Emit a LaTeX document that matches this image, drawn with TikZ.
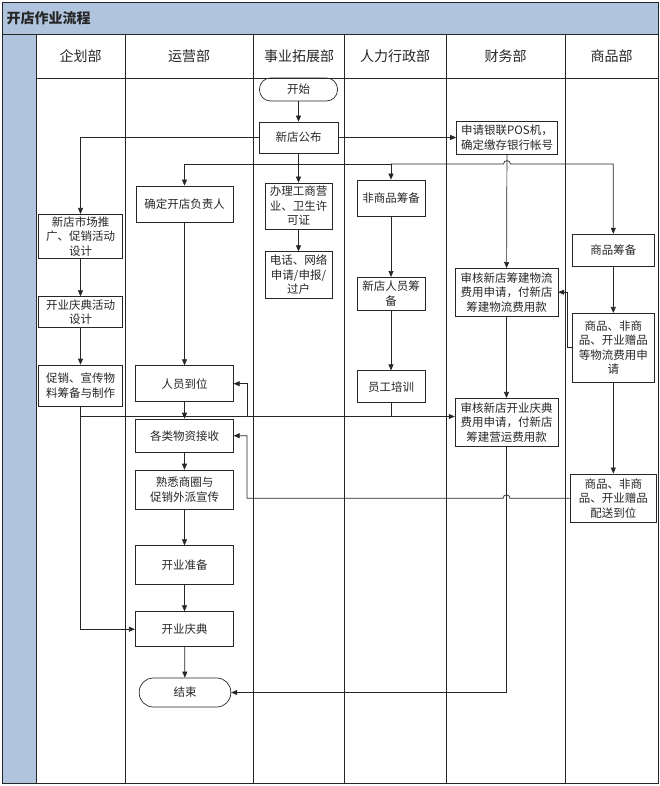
\documentclass[tikz,border=0pt]{standalone}
\usepackage{fontspec}
\setmainfont{Noto Sans CJK SC}
\usetikzlibrary{arrows.meta}
\definecolor{band}{HTML}{B0C4DE}
\definecolor{ink}{HTML}{262626}
\begin{document}
\begin{tikzpicture}[x=1pt,y=-1pt,
  bx/.style 2 args={draw=ink, line width=0.7pt, minimum width=#1, minimum height=#2, inner sep=0pt, align=center, font=\fontsize{11.5}{14.5}\selectfont, text=ink},
  term/.style n args={3}{bx={#1}{#2}, rounded corners=#3},
  conn/.style={draw=ink, line width=0.7pt},
  arr/.style={conn, -{Triangle[length=6pt,width=5pt]}},
  lane/.style={draw=ink, line width=0.9pt},
  hdr/.style={font=\fontsize{14}{16}\selectfont, text=ink}]
\useasboundingbox (0,0) rectangle (660,786);
% frame
\fill[band] (2,2) rectangle (658,34);
\fill[band] (2,34) rectangle (36,783);
\draw[lane] (2,2) rectangle (658,783);
\draw[lane] (2,34) -- (658,34);
\draw[lane] (36,78) -- (658,78);
\foreach \x in {36,125,253.7,344.3,446,565.7} \draw[lane] (\x,34) -- (\x,783);
\node[anchor=west, font=\bfseries\fontsize{14}{16}\selectfont, text=ink] (title) at (3,18) {开店作业流程};
% headers
\node[hdr] (h1) at (80.5,56) {企划部};
\node[hdr] (h2) at (189,56) {运营部};
\node[hdr] (h3) at (299,56) {事业拓展部};
\node[hdr] (h4) at (395,56) {人力行政部};
\node[hdr] (h5) at (505.5,56) {财务部};
\node[hdr] (h6) at (611.5,56) {商品部};
% nodes
\node[term={78pt}{23pt}{11pt}] (start) at (298.5,89.5) {开始};
\node[bx={79pt}{31pt}] (pub) at (298.5,137.5) {新店公布};
\node[bx={101pt}{33pt}] (pos) at (507,137.5) {申请银联POS机，\\确定缴存银行帐号};
\node[bx={84.4pt}{44pt}] (mkt) at (80.5,236.3) {新店市场推\\广、促销活动\\设计};
\node[bx={84.4pt}{30.6pt}] (cdes) at (80.5,312) {开业庆典活动\\设计};
\node[bx={84.4pt}{41pt}] (promo) at (80.5,385.5) {促销、宣传物\\料筹备与制作};
\node[bx={97.3pt}{36.7pt}] (mgr) at (184.5,204.3) {确定开店负责人};
\node[bx={97.6pt}{36pt}] (staff) at (184.5,383.7) {人员到位};
\node[bx={97.6pt}{33.3pt}] (recv) at (184.5,435.7) {各类物资接收};
\node[bx={97.6pt}{39.3pt}] (fam) at (184.5,489.7) {熟悉商圈与\\促销外派宣传};
\node[bx={97.6pt}{38.6pt}] (prep) at (184.5,565) {开业准备};
\node[bx={98.5pt}{35pt}] (open) at (184.5,629.2) {开业庆典};
\node[term={91.6pt}{29pt}{14pt}] (end) at (185,692.5) {结束};
\node[bx={67pt}{46pt}] (lic) at (298.5,206) {办理工商营\\业、卫生许\\可证};
\node[bx={67pt}{46.6pt}] (tel) at (298.5,275) {电话、网络\\申请/申报/\\过户};
\node[bx={67.7pt}{36pt}] (nonm) at (391,198) {非商品筹备};
\node[bx={67.7pt}{32.7pt}] (hr) at (391,293.7) {新店人员筹\\备};
\node[bx={67.7pt}{32pt}] (train) at (391,386.7) {员工培训};
\node[bx={102.7pt}{47.7pt}] (aud1) at (506.5,292.2) {审核新店筹建物流\\费用申请，付新店\\筹建物流费用款};
\node[bx={102.7pt}{48.4pt}] (aud2) at (506.5,422.5) {审核新店开业庆典\\费用申请，付新店\\筹建营运费用款};
\node[bx={82pt}{31.7pt}] (merch) at (613.3,250) {商品筹备};
\node[bx={82pt}{69pt}] (logi) at (613.3,347.8) {商品、非商\\品、开业赠品\\等物流费用申\\请};
\node[bx={86.7pt}{48.7pt}] (deliv) at (613.3,498.3) {商品、非商\\品、开业赠品\\配送到位};
% connectors
\coordinate (br) at (298.5,164);
\coordinate (j1) at (80.5,416.5);
\draw[arr] (start) -- (pub);
\draw[arr] (pub) -- (pos);
\draw[arr] (pub.west) -| (mkt.north);
\draw[arr] (pub) -- (lic);
\draw[arr] (br) -| (mgr.north);
\draw[arr] (br) -| (nonm.north);
\draw[arr] (nonm.north |- br) -- (503.5,164) .. controls (503.5,159.5) and (510.5,159.5) .. (510.5,164) -| (merch.north);
\draw[arr] (pos) -- (aud1);
\draw[arr] (lic) -- (tel);
\draw[arr] (nonm) -- (hr);
\draw[arr] (hr) -- (train);
\draw[arr] (mkt) -- (cdes);
\draw[arr] (cdes) -- (promo);
\draw[arr] (promo.south) |- (open.west);
\draw[arr] (j1) -- (j1 -| aud2.west);
\draw[arr] (train.south) |- (247,416.5) |- (staff.east);
\draw[arr] (mgr) -- (staff);
\draw[arr] (staff) -- (recv);
\draw[arr] (recv) -- (fam);
\draw[arr] (fam) -- (prep);
\draw[arr] (prep) -- (open);
\draw[arr] (open) -- (end);
\draw[arr] (aud1) -- (aud2);
\draw[arr] (aud2.south) |- (end.east);
\draw[arr] (merch) -- (logi);
\draw[arr] (logi) -- (deliv);
\draw[arr] (logi.west) -- ++(-4.8,0) |- (aud1.east);
\draw[arr] (deliv.west) -- (510,498.3) .. controls (510,493.8) and (503,493.8) .. (503,498.3) -- (247,498.3) |- (recv.east);
\end{tikzpicture}
\end{document}
